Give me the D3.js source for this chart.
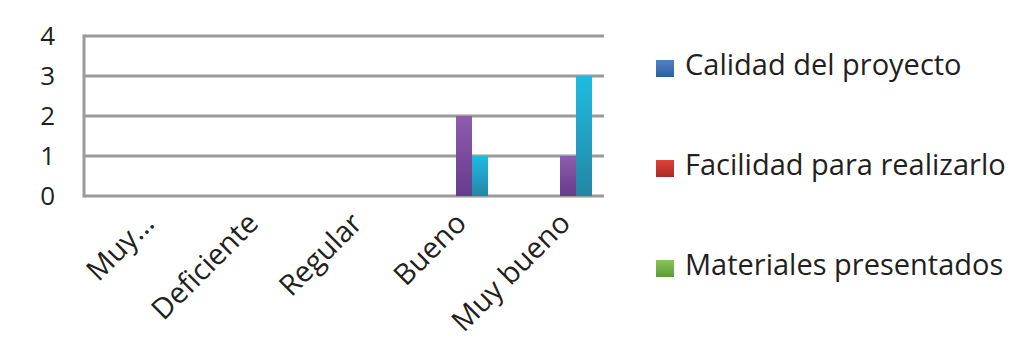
<!DOCTYPE html>
<html>
<head>
<meta charset="utf-8">
<script src="https://cdn.jsdelivr.net/npm/d3@7"></script>
<style>
  html, body { margin: 0; padding: 0; background: #fff; }
  svg { display: block; }
  text { font-family: "Open Sans", sans-serif; fill: #231f20; }
</style>
</head>
<body>
<svg id="chart" width="1035" height="354"></svg>
<script>
const categories = ["Muy...", "Deficiente", "Regular", "Bueno", "Muy bueno"];
const seriesNames = ["Calidad del proyecto", "Facilidad para realizarlo", "Materiales presentados", "Serie 4", "Serie 5"];
const calidad = [0, 0, 0, 0, 0];
const facilidad = [0, 0, 0, 0, 0];
const materiales = [0, 0, 0, 0, 0];
const serie4 = [0, 0, 0, 2, 1];
const serie5 = [0, 0, 0, 1, 3];
const yTicks = [0, 1, 2, 3, 4];
const legendNames = ["Calidad del proyecto", "Facilidad para realizarlo", "Materiales presentados"];

const seriesValues = [calidad, facilidad, materiales, serie4, serie5];
const colorsTop = ["#4f81c4", "#e0413a", "#86c55a", "#8d5cad", "#1fbbe2"];
const colorsBot = ["#2f5f9e", "#a82a24", "#5f9a38", "#683b8c", "#2386a6"];

const svg = d3.select("#chart");
const defs = svg.append("defs");
seriesNames.forEach((s, i) => {
  const g = defs.append("linearGradient").attr("id", "g" + i)
    .attr("x1", 0).attr("y1", 0).attr("x2", 0).attr("y2", 1);
  g.append("stop").attr("offset", "0%").attr("stop-color", colorsTop[i]);
  g.append("stop").attr("offset", "100%").attr("stop-color", colorsBot[i]);
});

const mLeft = 84, mRight = 604, mTop = 36, mBottom = 196;
const x = d3.scaleBand().domain(categories).range([mLeft, mRight]).paddingInner(0).paddingOuter(0);
const xs = d3.scaleBand().domain(seriesNames).range([0, x.bandwidth()]).paddingInner(0).paddingOuter(0.75);
const y = d3.scaleLinear().domain([0, 4]).range([mBottom, mTop]);

// gridlines
svg.append("g").selectAll("line").data(yTicks).join("line")
  .attr("x1", mLeft).attr("x2", mRight)
  .attr("y1", d => y(d)).attr("y2", d => y(d))
  .attr("stroke", "#9a9a9a").attr("stroke-width", 3);

// vertical axis line
svg.append("line").attr("x1", mLeft).attr("x2", mLeft)
  .attr("y1", y(4) - 1.5).attr("y2", y(0) + 1.5)
  .attr("stroke", "#9a9a9a").attr("stroke-width", 3);

// y labels
svg.append("g").selectAll("text").data(yTicks).join("text")
  .attr("x", 55).attr("y", d => y(d))
  .attr("dy", "0.36em")
  .attr("text-anchor", "end")
  .attr("font-size", 26)
  .text(d => d);

// bars
const rows = [];
seriesValues.forEach((vals, si) => vals.forEach((v, ci) => {
  if (v > 0) rows.push({ s: seriesNames[si], si, c: categories[ci], v });
}));
svg.append("g").selectAll("rect").data(rows).join("rect")
  .attr("x", d => x(d.c) + xs(d.s))
  .attr("width", xs.bandwidth())
  .attr("y", d => y(d.v))
  .attr("height", d => y(0) - y(d.v))
  .attr("fill", d => "url(#g" + d.si + ")");

// x labels
svg.append("g").selectAll("text").data(categories).join("text")
  .attr("transform", d => `translate(${x(d) + x.bandwidth() / 2 + 20},${225}) rotate(-45)`)
  .attr("text-anchor", "end")
  .attr("font-size", 29)
  .text(d => d);

// legend
const lg = svg.append("g").selectAll("g").data(legendNames).join("g")
  .attr("transform", (d, i) => `translate(656,${60 + i * 100})`);
lg.append("rect").attr("width", 18).attr("height", 17)
  .attr("fill", (d, i) => "url(#g" + i + ")");
lg.append("text").attr("x", 29).attr("y", 15)
  .attr("font-size", 29)
  .text(d => d);
</script>
</body>
</html>
